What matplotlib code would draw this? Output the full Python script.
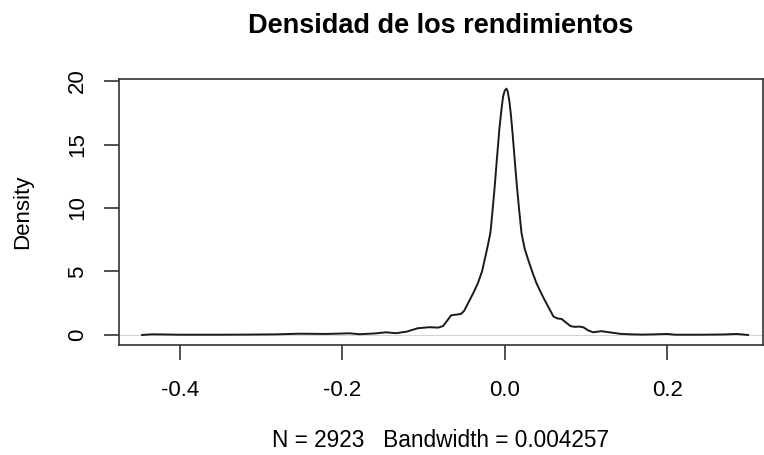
import matplotlib
matplotlib.use("Agg")
import matplotlib.pyplot as plt

# points (x = return, y = density)
ret_x = [-0.4465, -0.435, -0.42, -0.40, -0.35, -0.315, -0.28, -0.253, -0.22,
         -0.191, -0.179, -0.160, -0.146, -0.134, -0.121, -0.107, -0.093,
         -0.082, -0.076, -0.070, -0.066, -0.060, -0.054, -0.050, -0.043,
         -0.038, -0.033, -0.028, -0.0247, -0.021, -0.0177, -0.015, -0.0125,
         -0.0095, -0.0065, -0.004, -0.002, 0.0, 0.002, 0.0035, 0.0055, 0.0075,
         0.010, 0.0125, 0.015, 0.0175, 0.0206, 0.0245, 0.0288, 0.034, 0.039,
         0.044, 0.049, 0.055, 0.060, 0.065, 0.070, 0.076, 0.081, 0.086, 0.092,
         0.097, 0.103, 0.109, 0.119, 0.130, 0.142, 0.155, 0.170, 0.185, 0.200,
         0.21, 0.24, 0.27, 0.286, 0.2996]
dens_y = [0.0, 0.05, 0.04, 0.02, 0.02, 0.03, 0.05, 0.10, 0.08,
          0.13, 0.06, 0.12, 0.21, 0.14, 0.26, 0.53, 0.61,
          0.58, 0.70, 1.20, 1.55, 1.60, 1.65, 1.90, 2.77,
          3.40, 4.09, 5.00, 5.93, 7.00, 8.04, 9.80, 11.60,
          14.00, 16.30, 17.80, 18.80, 19.25, 19.40, 19.20, 18.50, 17.40,
          15.60, 13.60, 11.70, 10.00, 8.04, 6.80, 5.93, 4.95, 4.09,
          3.40, 2.77, 2.05, 1.45, 1.30, 1.26, 0.95, 0.70, 0.64, 0.66,
          0.60, 0.35, 0.21, 0.30, 0.20, 0.09, 0.05, 0.03, 0.05, 0.08,
          0.02, 0.02, 0.04, 0.08, 0.0]

x_ticks = [-0.4, -0.2, 0.0, 0.2]
x_labels = ["-0.4", "-0.2", "0.0", "0.2"]
y_ticks = [0, 5, 10, 15, 20]

plt.rcParams['font.family'] = ['Liberation Sans', 'DejaVu Sans']

fig = plt.figure(figsize=(7.64, 4.55), dpi=100)
ax = fig.add_axes([119 / 764, 110 / 455, 644 / 764, 266 / 455])

ax.axhline(0, color='#d3d3d3', lw=0.8, zorder=1)
ax.plot(ret_x, dens_y, color='#1a1a1a', lw=1.4, zorder=2)

ax.set_xlim(-0.475, 0.318)
ax.set_ylim(-0.79, 20.16)
ax.set_xticks(x_ticks)
ax.set_xticklabels(x_labels)
ax.set_yticks(y_ticks)
ax.set_yticklabels([str(v) for v in y_ticks], rotation=90, va='center')
ax.tick_params(axis='both', direction='out', length=10.5, width=1.1, labelsize=16,
               colors='#222222', labelcolor='black')
ax.tick_params(axis='x', pad=15)
ax.tick_params(axis='y', pad=12)
for s in ax.spines.values():
    s.set_linewidth(1.2)
    s.set_color('#333333')

ax.set_title("Densidad de los rendimientos", fontsize=19.5, fontweight='bold', pad=33)
ax.set_ylabel("Density", fontsize=16, labelpad=24)
ax.set_xlabel("N = 2923   Bandwidth = 0.004257", fontsize=16.3, labelpad=20)

fig.savefig("out.png", dpi=100)
